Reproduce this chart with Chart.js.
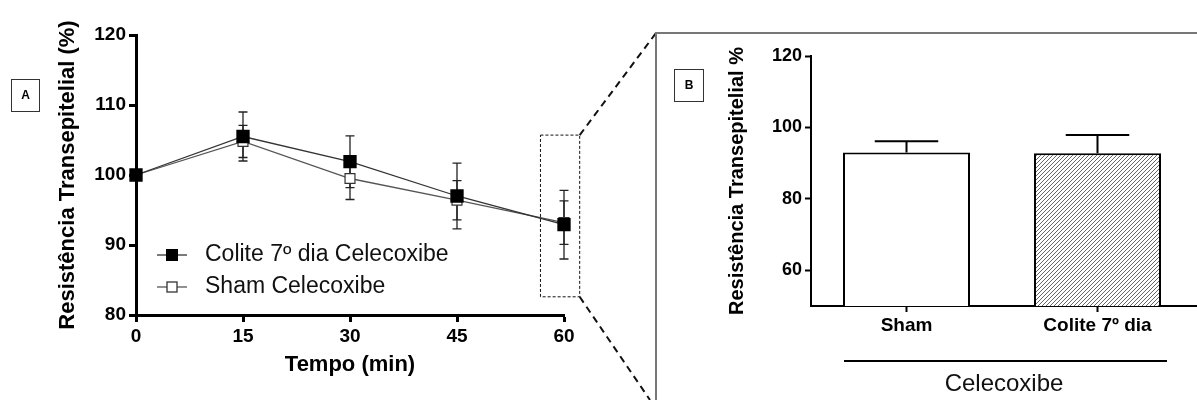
<!DOCTYPE html>
<html lang="pt">
<head>
<meta charset="UTF-8">
<title>Resistência Transepitelial - Celecoxibe</title>
<script src="https://cdn.jsdelivr.net/npm/chart.js"></script>
<style>
  body { margin: 0; background: #fff; }
  #wrap { position: relative; width: 1197px; height: 400px; overflow: hidden; }
  #chartA { position: absolute; left: 0; top: 0; }
  #chartB { position: absolute; left: 656px; top: 0; }
  #frameB { position: absolute; left: 655px; top: 32px; width: 600px; height: 420px;
            border-left: 2px solid #777; border-top: 2px solid #777; }
</style>
</head>
<body>
<div id="wrap">
  <canvas id="chartA" width="660" height="400"></canvas>
  <div id="frameB"></div>
  <canvas id="chartB" width="541" height="400"></canvas>
</div>
<script>
  // painel A - curva temporal
  const tempos       = [0, 15, 30, 45, 60];
  const coliteMedia  = [100, 105.5, 101.9, 97.0, 92.9];
  const coliteErro   = [0, 3.5, 3.7, 4.7, 4.9];
  const shamMedia    = [100, 104.8, 99.5, 96.4, 93.2];
  const shamErro     = [0, 2.3, 3.0, 2.8, 3.1];
  const ticksYA      = [80, 90, 100, 110, 120];

  // painel B - barras
  const grupos       = ['Sham', 'Colite 7º dia'];
  const barraMedia   = [93.0, 92.8];
  const barraErro    = [3.1, 5.1];
  const ticksYB      = [60, 80, 100, 120];

  const FONT = "'Liberation Sans', Arial, sans-serif";
  Chart.defaults.font.family = FONT;
  Chart.defaults.color = '#000';

  const pontos = (xs, ys) => xs.map((v, i) => ({ x: v, y: ys[i] }));

  // barras de erro (A): simétricas, com tampinhas
  const errosA = {
    id: 'errosA',
    beforeDatasetsDraw(chart) {
      const { ctx, scales: { x, y } } = chart;
      ctx.save();
      ctx.strokeStyle = '#222';
      ctx.lineWidth = 1.3;
      chart.data.datasets.forEach(ds => {
        ds.data.forEach((p, i) => {
          const e = ds.erro[i];
          if (!e) return;
          const px = x.getPixelForValue(p.x);
          const t = y.getPixelForValue(p.y + e);
          const b = y.getPixelForValue(p.y - e);
          ctx.beginPath();
          ctx.moveTo(px, t); ctx.lineTo(px, b);
          ctx.moveTo(px - 4.5, t); ctx.lineTo(px + 4.5, t);
          ctx.moveTo(px - 4.5, b); ctx.lineTo(px + 4.5, b);
          ctx.stroke();
        });
      });
      ctx.restore();
    }
  };

  // legenda, caixa "A", retângulo tracejado e linhas de ligação
  const decorA = {
    id: 'decorA',
    afterDraw(chart) {
      const { ctx, scales: { x, y } } = chart;
      ctx.save();

      ctx.strokeStyle = '#333';
      ctx.lineWidth = 1;
      ctx.strokeRect(11.5, 79.5, 28, 32);
      ctx.fillStyle = '#000';
      ctx.font = `bold 12px ${FONT}`;
      ctx.textAlign = 'center';
      ctx.textBaseline = 'middle';
      ctx.fillText('A', 25.5, 96);

      const itens = [
        { texto: 'Colite 7º dia Celecoxibe', yy: 255, cheio: true,  lado: 12, cor: '#333' },
        { texto: 'Sham Celecoxibe',          yy: 287, cheio: false, lado: 10, cor: '#555' }
      ];
      itens.forEach(it => {
        ctx.strokeStyle = it.cor;
        ctx.lineWidth = 1.3;
        ctx.beginPath();
        ctx.moveTo(157, it.yy); ctx.lineTo(187, it.yy);
        ctx.stroke();
        const h = it.lado / 2;
        if (it.cheio) {
          ctx.fillStyle = '#000';
          ctx.fillRect(172 - h, it.yy - h, it.lado, it.lado);
        } else {
          ctx.fillStyle = '#fff';
          ctx.fillRect(172 - h, it.yy - h, it.lado, it.lado);
          ctx.strokeStyle = '#333';
          ctx.strokeRect(172 - h, it.yy - h, it.lado, it.lado);
        }
        ctx.fillStyle = '#111';
        ctx.font = `23px ${FONT}`;
        ctx.textAlign = 'left';
        ctx.fillText(it.texto, 205, it.yy);
      });

      const bx0 = x.getPixelForValue(56.7), bx1 = x.getPixelForValue(62.2);
      const by0 = y.getPixelForValue(105.7), by1 = y.getPixelForValue(82.6);
      ctx.strokeStyle = '#111';
      ctx.setLineDash([3, 2]);
      ctx.lineWidth = 1;
      ctx.strokeRect(bx0, by0, bx1 - bx0, by1 - by0);
      ctx.setLineDash([7, 5]);
      ctx.lineWidth = 2;
      ctx.beginPath();
      ctx.moveTo(bx1, by0); ctx.lineTo(656, 33);
      ctx.moveTo(bx1, by1); ctx.lineTo(650, 400);
      ctx.stroke();
      ctx.restore();
    }
  };

  const chartA = new Chart(document.getElementById('chartA'), {
    type: 'line',
    data: {
      datasets: [
        {
          label: 'Colite 7º dia Celecoxibe',
          data: pontos(tempos, coliteMedia), erro: coliteErro,
          borderColor: '#333', borderWidth: 1.3, tension: 0, fill: false, clip: false,
          pointStyle: 'rect', pointRadius: 8.5, pointBackgroundColor: '#000', pointBorderColor: '#000'
        },
        {
          label: 'Sham Celecoxibe',
          data: pontos(tempos, shamMedia), erro: shamErro,
          borderColor: '#555', borderWidth: 1.3, tension: 0, fill: false, clip: false,
          pointStyle: 'rect', pointRadius: 7, pointBackgroundColor: '#fff',
          pointBorderColor: '#333', pointBorderWidth: 1.2
        }
      ]
    },
    options: {
      responsive: false, animation: false, devicePixelRatio: 1,
      layout: { padding: { left: 51, top: 35, right: 96, bottom: 18 } },
      plugins: { legend: { display: false }, tooltip: { enabled: false } },
      scales: {
        x: {
          type: 'linear', min: 0, max: 60,
          afterBuildTicks: s => { s.ticks = tempos.map(v => ({ value: v })); },
          afterFit: s => { s.height = 400 - 315 - 18; },
          ticks: { font: { size: 19, weight: 'bold' }, color: '#000', padding: 3, maxRotation: 0 },
          border: { display: true, color: '#000', width: 3 },
          grid: { display: true, drawOnChartArea: false, drawTicks: true, tickLength: 7, tickWidth: 3, tickColor: '#000' },
          title: { display: true, text: 'Tempo (min)', color: '#000', font: { size: 22, weight: 'bold' } }
        },
        y: {
          min: 80, max: 120,
          afterBuildTicks: s => { s.ticks = ticksYA.map(v => ({ value: v })); },
          afterFit: s => { s.width = 136 - 51; },
          ticks: { font: { size: 19, weight: 'bold' }, color: '#000', padding: 3 },
          border: { display: true, color: '#000', width: 3 },
          grid: { display: true, drawOnChartArea: false, drawTicks: true, tickLength: 7, tickWidth: 3, tickColor: '#000' },
          title: { display: true, text: 'Resistência Transepitelial (%)', color: '#000', font: { size: 22, weight: 'bold' } }
        }
      }
    },
    plugins: [errosA, decorA]
  });

  // hachurado diagonal da barra Colite
  function hachura(ctxAlvo) {
    const c = document.createElement('canvas');
    c.width = c.height = 4;
    const g = c.getContext('2d');
    g.fillStyle = '#fff';
    g.fillRect(0, 0, 4, 4);
    g.strokeStyle = '#666';
    g.lineWidth = 1;
    g.beginPath();
    g.moveTo(0, 4); g.lineTo(4, 0);
    g.moveTo(-1, 1); g.lineTo(1, -1);
    g.moveTo(3, 5); g.lineTo(5, 3);
    g.stroke();
    return ctxAlvo.createPattern(c, 'repeat');
  }

  // barras de erro (B): só para cima
  const errosB = {
    id: 'errosB',
    afterDatasetsDraw(chart) {
      const { ctx, scales: { y } } = chart;
      const meta = chart.getDatasetMeta(0);
      ctx.save();
      ctx.strokeStyle = '#000';
      ctx.lineWidth = 2;
      meta.data.forEach((bar, i) => {
        const t = y.getPixelForValue(barraMedia[i] + barraErro[i]);
        const half = bar.width / 4;
        ctx.beginPath();
        ctx.moveTo(bar.x, bar.y); ctx.lineTo(bar.x, t);
        ctx.moveTo(bar.x - half, t); ctx.lineTo(bar.x + half, t);
        ctx.stroke();
      });
      ctx.restore();
    }
  };

  const decorB = {
    id: 'decorB',
    afterDraw(chart) {
      const { ctx, chartArea } = chart;
      ctx.save();
      ctx.strokeStyle = '#333';
      ctx.lineWidth = 1;
      ctx.strokeRect(18.5, 69.5, 29, 32);
      ctx.fillStyle = '#000';
      ctx.font = `bold 12px ${FONT}`;
      ctx.textAlign = 'center';
      ctx.textBaseline = 'middle';
      ctx.fillText('B', 33, 86);

      ctx.lineWidth = 2;
      ctx.strokeStyle = '#000';
      ctx.beginPath();
      // eixo x segue até a borda
      const yEixo = Math.round(chartArea.bottom - 1) + 1;
      ctx.moveTo(chartArea.right - 2, yEixo); ctx.lineTo(chart.width, yEixo);
      ctx.moveTo(188, 361); ctx.lineTo(511, 361);
      ctx.stroke();
      ctx.fillStyle = '#111';
      ctx.font = `24px ${FONT}`;
      ctx.fillText('Celecoxibe', 348, 384);
      ctx.restore();
    }
  };

  const canvasB = document.getElementById('chartB');
  const chartB = new Chart(canvasB, {
    type: 'bar',
    data: {
      labels: grupos,
      datasets: [{
        data: barraMedia,
        backgroundColor: ['#fff', hachura(canvasB.getContext('2d'))],
        borderColor: '#000', borderWidth: 2,
        categoryPercentage: 1, barPercentage: 0.665
      }]
    },
    options: {
      responsive: false, animation: false, devicePixelRatio: 1,
      layout: { padding: { left: 65, top: 56, right: 4, bottom: 0 } },
      plugins: { legend: { display: false }, tooltip: { enabled: false } },
      scales: {
        x: {
          afterFit: s => { s.height = 400 - 306; },
          ticks: { font: { size: 19, weight: 'bold' }, color: '#000', padding: 2, maxRotation: 0 },
          border: { display: true, color: '#000', width: 2 },
          grid: { display: true, offset: false, drawOnChartArea: false, drawTicks: true, tickLength: 6, tickWidth: 2, tickColor: '#000' }
        },
        y: {
          min: 50, max: 120,
          afterBuildTicks: s => { s.ticks = ticksYB.map(v => ({ value: v })); },
          afterFit: s => { s.width = 90; },
          ticks: { font: { size: 18, weight: 'bold' }, color: '#000', padding: 3 },
          border: { display: true, color: '#000', width: 2 },
          grid: { display: true, drawOnChartArea: false, drawTicks: true, tickLength: 6, tickWidth: 2, tickColor: '#000' },
          title: { display: true, text: 'Resistência Transepitelial %', color: '#000', font: { size: 20, weight: 'bold' } }
        }
      }
    },
    plugins: [errosB, decorB]
  });
</script>
</body>
</html>
